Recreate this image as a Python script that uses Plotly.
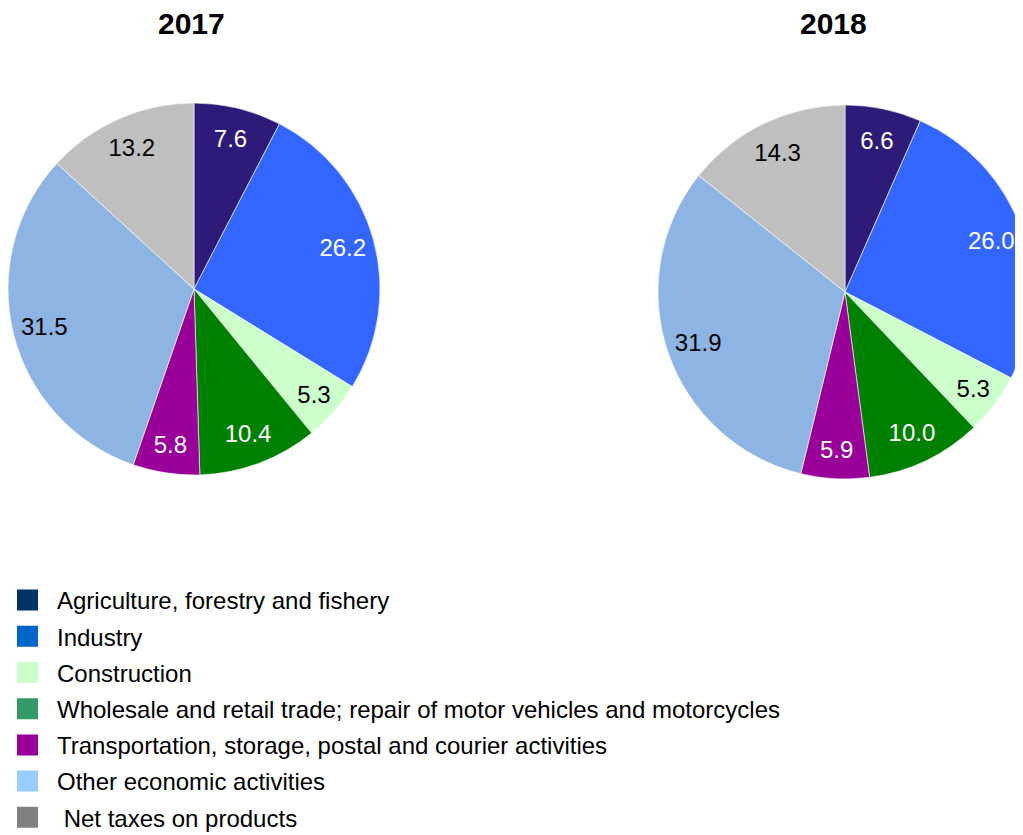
import plotly.graph_objects as go

categories = [
    "Agriculture, forestry and fishery",
    "Industry",
    "Construction",
    "Wholesale and retail trade; repair of motor vehicles and motorcycles",
    "Transportation, storage, postal and courier activities",
    "Other economic activities",
    "\u00a0Net taxes on products",
]
years = ["2017", "2018"]
values_2017 = [7.6, 26.2, 5.3, 10.4, 5.8, 31.5, 13.2]
values_2018 = [6.6, 26.0, 5.3, 10.0, 5.9, 31.9, 14.3]

slice_colors = ["#2E1A78", "#3366FF", "#CCFFCC", "#008000", "#990099", "#8EB4E3", "#BFBFBF"]
legend_colors = ["#003366", "#0066CC", "#CCFFCC", "#339966", "#990099", "#99CCFF", "#808080"]
label_colors = ["white", "white", "black", "white", "white", "black", "black"]

# page body adds an 8px offset; figure coordinates below are window coords minus 8
W, H = 1040, 835
FONT = "Liberation Sans, Arial, sans-serif"

fig = go.Figure()

domains = [
    dict(x=[0 / W, 372 / W], y=[1 - 467 / H, 1 - 95 / H]),
    dict(x=[650 / W, 1024 / W], y=[1 - 471 / H, 1 - 97 / H]),
]
for vals, dom in zip([values_2017, values_2018], domains):
    # filled slices
    fig.add_trace(go.Pie(
        labels=categories, values=vals, sort=False, direction="clockwise",
        rotation=0, domain=dom, showlegend=False,
        marker=dict(colors=slice_colors, line=dict(color="white", width=0.6)),
        textinfo="none", hoverinfo="label+value",
    ))
    # transparent ring carrying the value labels near the rim
    fig.add_trace(go.Pie(
        labels=categories, values=vals, sort=False, direction="clockwise",
        rotation=0, domain=dom, showlegend=False, hole=0.66,
        marker=dict(colors=["rgba(0,0,0,0)"] * len(vals), line=dict(width=0)),
        texttemplate="%{value:.1f}", textposition="inside",
        insidetextorientation="horizontal",
        textfont=dict(family=FONT, size=24, color=label_colors),
        hoverinfo="label+value",
    ))

for i, (name, col) in enumerate(zip(categories, legend_colors)):
    fig.add_trace(go.Scatter(
        x=[None], y=[None], mode="markers", name=name, legendgroup=str(i),
        marker=dict(symbol="square", size=16, color=col, line=dict(color=col, width=5)),
    ))

title_x = [183 / W, 825 / W]
for yr, tx in zip(years, title_x):
    fig.add_annotation(text="<b>" + yr + "</b>", x=tx, y=1 - 16 / H, xref="paper", yref="paper",
                       xanchor="center", yanchor="middle", showarrow=False,
                       font=dict(family=FONT, size=30, color="black"))

fig.update_layout(
    width=W, height=H, margin=dict(l=0, r=0, t=0, b=0, autoexpand=False),
    paper_bgcolor="white", plot_bgcolor="white",
    xaxis=dict(visible=False), yaxis=dict(visible=False),
    showlegend=True,
    legend=dict(x=-10 / W, xanchor="left", y=1 - 570 / H, yanchor="top",
                font=dict(family=FONT, size=24, color="black"),
                itemwidth=49, tracegroupgap=2, bgcolor="rgba(0,0,0,0)"),
)

fig.write_html("out.html")
